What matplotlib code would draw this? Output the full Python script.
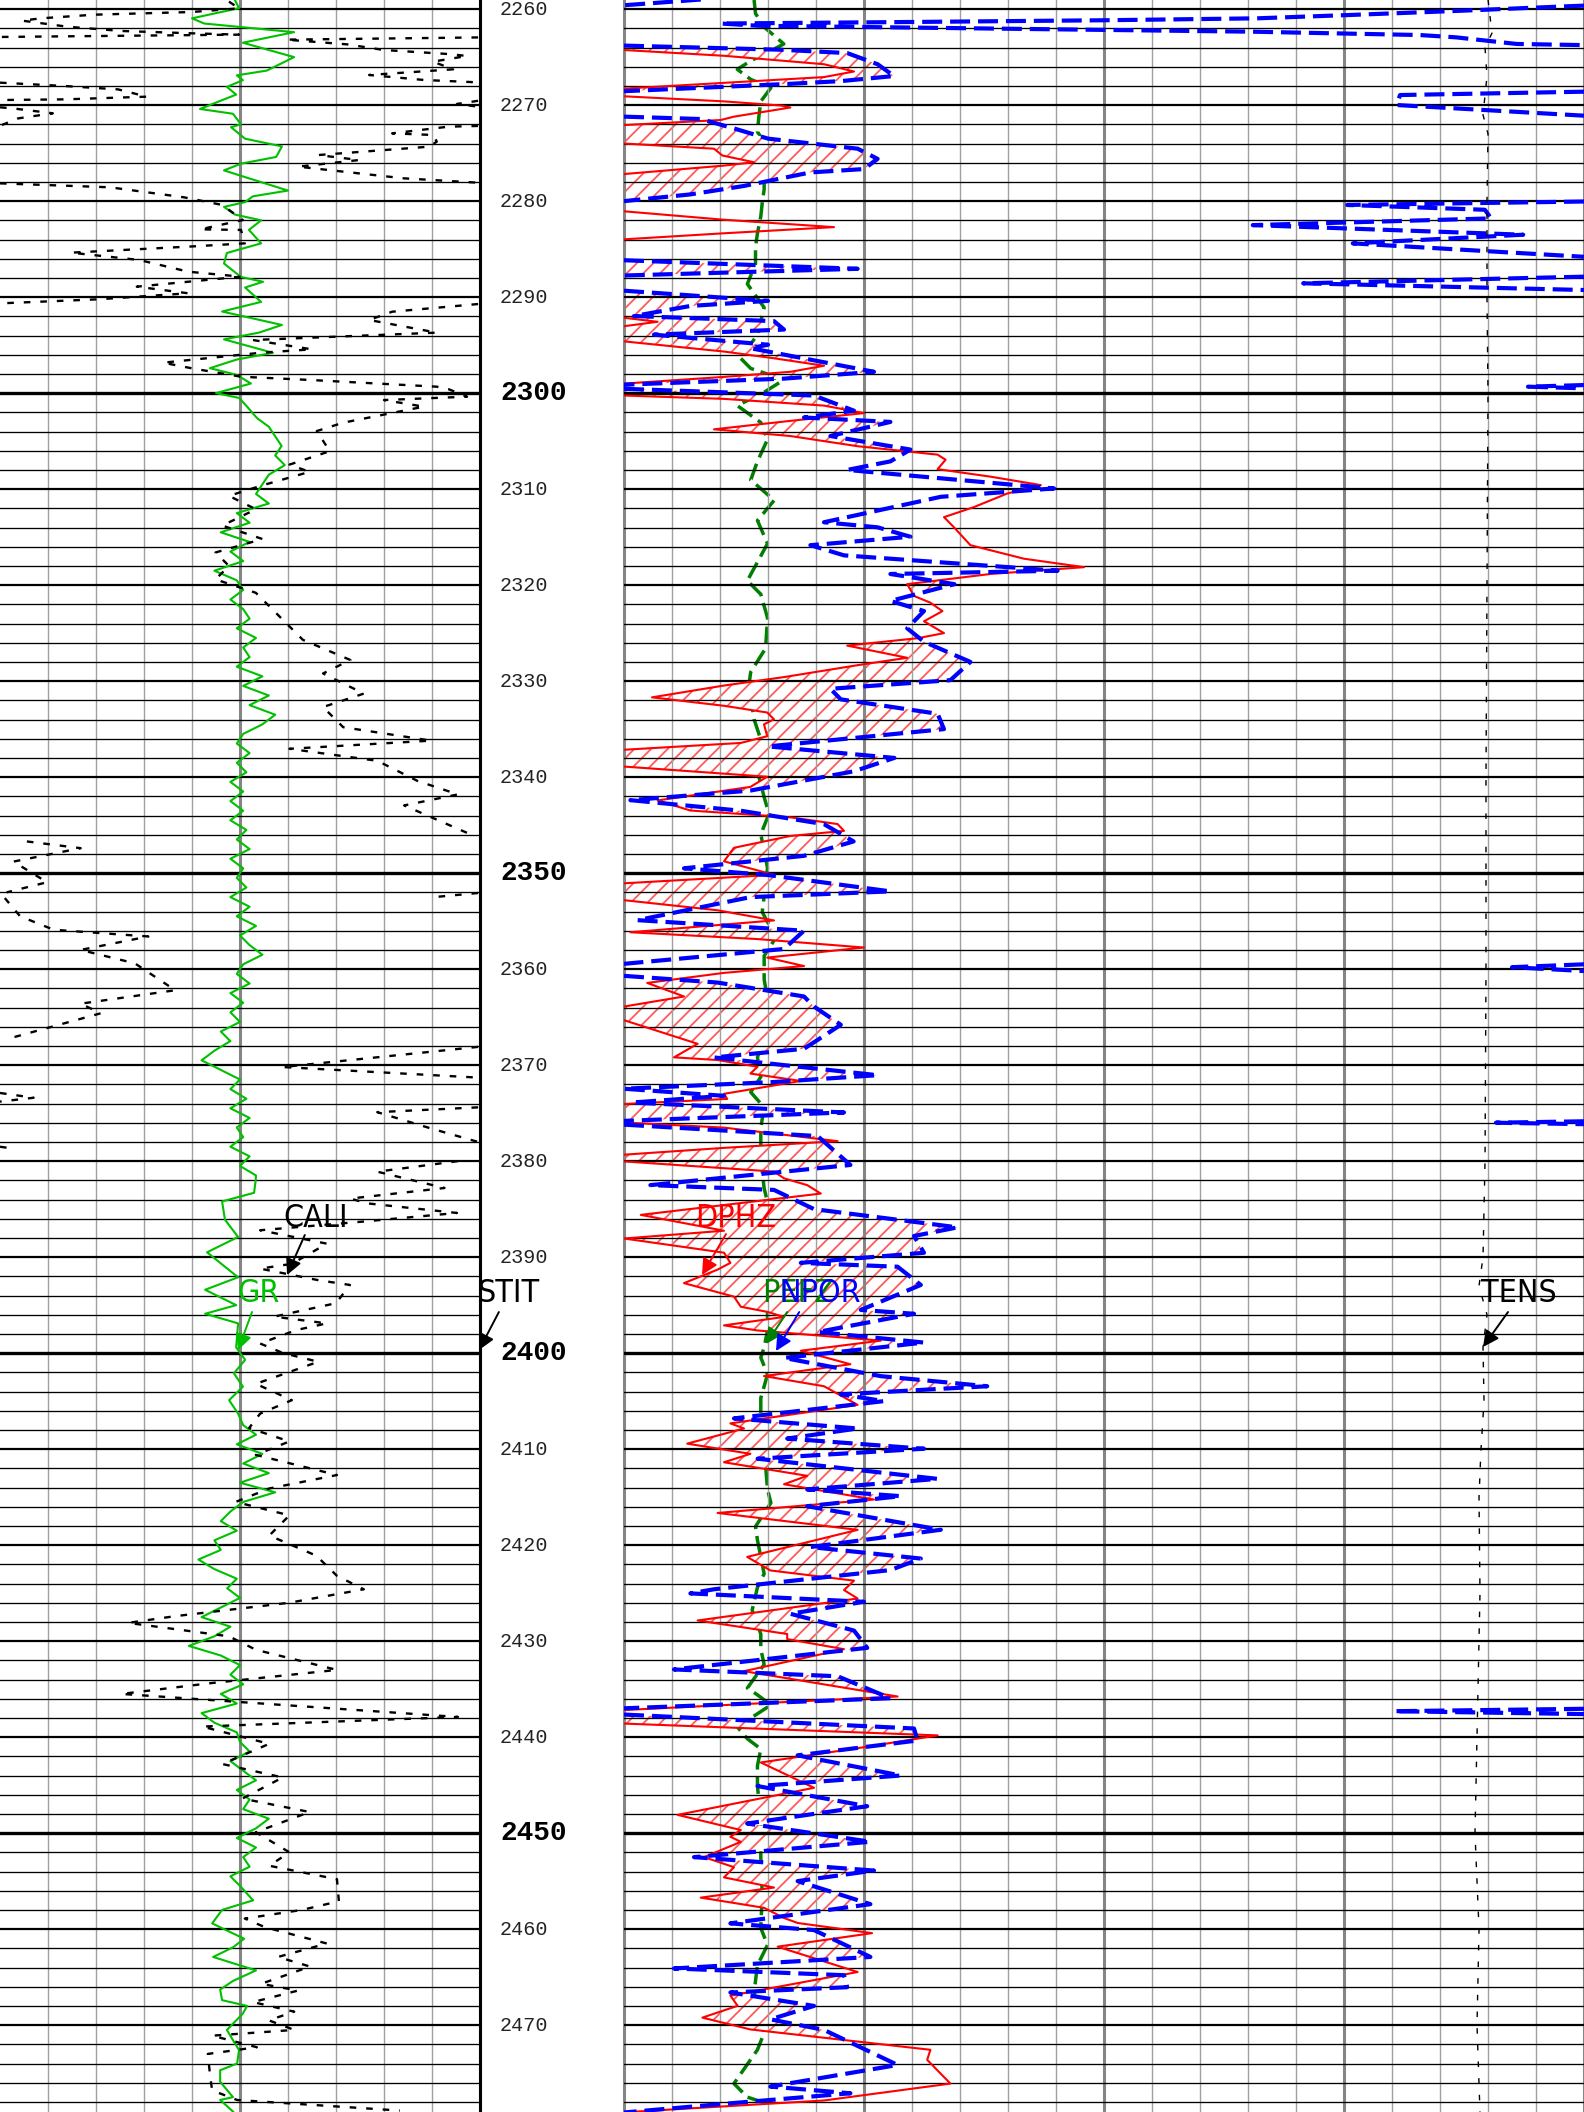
import numpy as np
import matplotlib
matplotlib.use("Agg")
import matplotlib.pyplot as plt
from matplotlib import font_manager
from matplotlib.font_manager import FontProperties

nan = np.nan

# ---------------- data (depth in ft) ----------------
gr_depth = [2259.05, 2259.9, 2260.96, 2261.5, 2262.4, 2263.5, 2265.0, 2266.4, 2266.9, 2267.4,
            2268.1, 2268.9, 2270.4, 2270.9, 2272.0, 2272.3, 2273.5, 2274.3, 2275.4, 2276.1,
            2276.8, 2277.5, 2278.9, 2279.5, 2280.1, 2280.6, 2281.4, 2282.0, 2283.0, 2284.4,
            2285.4, 2286.5, 2287.9, 2288.4, 2289.0, 2290.5, 2291.5, 2292.9, 2293.7, 2294.4,
            2295.8, 2296.5, 2297.4, 2298.1, 2299.0, 2300.0, 2300.5, 2301.4, 2302.6,
            2303.5, 2304.5, 2305.5, 2306.5, 2307.5, 2308.5, 2309.5, 2310.5, 2311.5, 2312.5,
            2313.5, 2314.5, 2315.5, 2316.5, 2317.5, 2318.5, 2319.5, 2320.5, 2321.5, 2322.5,
            2323.5, 2324.5, 2325.5, 2326.5, 2327.5, 2328.5, 2329.5, 2330.5, 2331.5, 2332.5,
            2333.5, 2334.5, 2335.5, 2336.5, 2337.5, 2338.5, 2339.5, 2340.5, 2341.5, 2342.5,
            2343.5, 2344.5, 2345.5, 2346.5, 2347.5, 2348.5, 2349.5, 2350.5, 2351.5, 2352.5,
            2353.5, 2354.5, 2355.5, 2356.5, 2357.5, 2358.5, 2359.5, 2360.5, 2361.5, 2362.5,
            2363.5, 2364.5, 2365.5, 2366.5, 2367.5, 2368.5, 2369.5, 2370.5, 2371.5, 2372.5,
            2373.5, 2374.5, 2375.5, 2376.5, 2377.5, 2378.5, 2379.5, 2380.5, 2381.5,
            2382.0, 2383.3, 2384.2, 2386.1, 2387.9, 2389.5, 2392.1, 2393.4, 2395.0, 2395.9,
            2396.9, 2399.4, 2400.7, 2402.1, 2403.5, 2404.9, 2406.3,
            2407.5, 2408.5, 2409.5, 2410.5, 2411.5, 2412.5, 2413.5, 2414.5, 2415.5, 2416.5,
            2417.5, 2418.5, 2419.5, 2420.5, 2421.5, 2422.5, 2423.5, 2424.5, 2425.5, 2426.5,
            2427.5, 2428.5, 2429.5, 2430.5, 2431.5, 2432.5, 2433.5, 2434.5, 2435.5, 2436.5,
            2437.5, 2438.5, 2439.5, 2440.5, 2441.5, 2442.5, 2443.5, 2444.5, 2445.5, 2446.5,
            2447.5, 2448.5, 2449.5, 2450.5, 2451.5, 2452.5, 2453.5, 2454.5, 2455.5,
            2457.0, 2458.0, 2459.4, 2460.0, 2461.0, 2461.9, 2462.9, 2464.3, 2465.4, 2466.3,
            2467.4, 2468.0, 2468.8, 2470.5, 2471.9, 2472.6, 2474.0, 2474.7, 2475.9, 2477.5,
            2477.8, 2479.0]
gr_api = [73.4, 74.7, 60.0, 63.8, 91.9, 75.9, 91.9, 83.4, 74.0, 75.9,
          70.9, 73.8, 62.5, 72.8, 75.3, 72.2, 76.6, 88.1, 86.3, 75.3,
          70.0, 76.6, 90.0, 79.0, 76.6, 70.0, 73.4, 81.6, 77.8, 81.6,
          70.9, 70.0, 75.3, 82.2, 76.6, 81.6, 69.4, 88.1, 80.9, 70.0,
          85.3, 74.0, 65.6, 74.0, 78.4, 67.5, 74.7, 77.2, 80.3,
          84, 86, 88, 86, 89, 84, 82, 80, 84, 74,
          78, 69, 78, 72, 76, 67, 74, 76, 72, 76,
          78, 74, 80, 76, 78, 74, 82, 76, 84, 78,
          86, 82, 76, 74, 78, 74, 77, 72, 76, 72,
          76, 72, 77, 74, 78, 72, 76, 74, 77, 72,
          78, 74, 80, 75, 78, 82, 76, 74, 78, 72,
          76, 72, 75, 69, 72, 67, 63, 69, 75, 72,
          77, 72, 78, 74, 76, 72, 78, 75, 80,
          79.9, 79.4, 69.4, 70.3, 74.4, 64.7, 74.4, 64.1, 73.8, 64.1,
          74.4, 73.8, 76.6, 73.1, 75.9, 71.6, 74.4,
          76, 80, 74, 82, 76, 84, 75, 86, 76, 72,
          69, 74, 67, 69, 62, 67, 74, 71, 75, 69,
          63, 72, 67, 59, 69, 75, 72, 76, 69, 74,
          63, 67, 74, 75, 78, 72, 76, 80, 74, 78,
          76, 84, 80, 74, 80, 76, 78, 72, 75,
          79.1, 69.4, 66.3, 70.0, 76.3, 72.8, 66.6, 80.0, 72.8, 68.8,
          69.4, 77.2, 75.9, 70.9, 73.4, 74.7, 74.1, 68.8, 68.8, 72.8,
          68.8, 72.8]

cali_depth = [2259.22, 2259.92, 2260.30, 2260.58, 2260.96, 2261.20, 2261.83, 2262.28, 2262.52, 2262.66,
              2262.90, 2262.92, 2262.95, 2263.18, 2263.67, 2264.26, 2264.68, 2264.88, 2265.47, 2266.27,
              2266.86, 2267.38, 2267.63, 2267.64, 2267.66, 2268.01, 2268.36, 2269.12, 2269.40, 2269.47,
              2269.50, 2269.55, 2269.88, 2270.16, 2270.20, 2270.23, 2270.33, 2270.85, 2271.38, 2272.07,
              2272.10, 2272.17, 2272.24, 2272.94, 2273.11, 2273.80, 2274.33, 2275.20, 2275.72, 2276.41,
              2277.63, 2278.08, 2278.10, 2278.15, 2278.56, 2279.60, 2280.40, 2281.97, 2282.94, 2283.00,
              2284.40, 2284.70, 2285.37, 2286.13, 2287.35, 2287.87, 2288.91, 2289.60, 2290.23, 2290.65,
              2290.68, 2290.72, 2291.52, 2292.38, 2293.70, 2294.47, 2295.44, 2295.79, 2296.83, 2297.42,
              2298.29, 2298.63, 2299.33, 2299.60, 2300.37, 2300.72, 2301.41, 2303.08, 2303.95, 2306.05,
              2307.45, 2308.20, 2309.60, 2310.70, 2312.10, 2313.80, 2315.20, 2316.60, 2318.00, 2319.40,
              2320.80, 2322.20, 2323.60, 2325.70, 2327.80, 2329.20, 2331.30, 2332.70, 2334.80, 2336.20,
              2337.05, 2338.30, 2340.40, 2341.80, 2342.95, 2346.00, 2346.30, 2346.70, 2347.40, 2348.80,
              2350.95, 2352.00, 2352.03, 2352.07, 2352.50, 2352.55, 2352.60, 2354.50, 2355.90, 2356.60,
              2358.00, 2359.40, 2362.20, 2363.60, 2364.60, 2367.10, 2367.50, 2368.10, 2370.20, 2371.30,
              2371.50, 2372.90, 2373.40, 2373.80, 2374.00, 2374.40, 2374.90, 2376.60, 2378.00, 2378.20,
              2378.50, 2378.60, 2378.80, 2379.00, 2380.00, 2381.10, 2382.80, 2383.90, 2384.40, 2385.40,
              2386.30, 2387.20, 2388.60, 2390.70, 2391.20, 2392.40, 2392.90, 2394.80, 2396.20, 2396.90,
              2397.60, 2399.00, 2400.00, 2400.90, 2403.20, 2404.90, 2406.30, 2407.80, 2409.20, 2410.60,
              2412.70, 2414.10, 2415.50, 2416.90, 2419.00, 2421.10, 2423.20, 2424.60, 2426.00, 2427.40,
              2428.10, 2429.50, 2430.90, 2433.00, 2434.40, 2435.50, 2437.90, 2438.90, 2440.70, 2442.80,
              2444.20, 2446.40, 2447.80, 2449.90, 2452.00, 2453.40, 2454.80, 2457.10, 2458.00, 2458.90,
              2459.80, 2461.50, 2462.90, 2463.90, 2465.70, 2466.40, 2467.60, 2468.60, 2469.50, 2470.50,
              2471.10, 2472.30, 2473.00, 2475.40, 2476.80, 2477.80, 2478.90]
cali_in = [10.77, 10.98, 10.00, 7.96, 6.85, 6.46, 7.40, 8.54, 10.00, 10.98,
           6.00, nan, 15.96, 11.96, 13.23, 14.00, 15.35, 15.73, 15.02, 15.44,
           13.69, 14.83, 15.96, nan, 6.00, 7.35, 8.46, 9.06, 7.35, 6.00,
           nan, 15.96, 15.52, 15.96, nan, 6.00, 6.25, 7.10, 6.38, 6.04,
           nan, 15.96, 15.35, 14.17, 15.02, 15.10, 14.94, 12.63, 13.48, 12.21,
           14.42, 15.96, nan, 6.00, 8.29, 9.83, 10.63, 11.06, 10.17, 11.02,
           11.10, 10.08, 7.48, 8.90, 9.92, 11.02, 8.85, 9.92, 8.04, 6.00,
           nan, 15.96, 14.17, 13.69, 15.10, 11.27, 12.50, 11.44, 9.40, 10.00,
           11.02, 12.46, 15.10, 15.35, 15.73, 14.00, 14.83, 13.15, 12.60, 12.87,
           12.03, 12.45, 11.47, 10.77, 11.33, 10.63, 11.47, 10.49, 10.77, 10.49,
           11.33, 11.61, 11.89, 12.31, 13.30, 12.73, 13.58, 12.73, 13.15, 14.98,
           12.03, 13.86, 14.70, 15.54, 14.42, 15.82, nan, 6.56, 7.68, 6.28,
           6.98, 6.14, nan, 15.96, 15.04, nan, 6.10, 6.42, 7.12, 9.09,
           7.68, 8.81, 9.65, 7.68, 8.10, 6.28, nan, 15.96, 11.89, 15.96,
           nan, 6.00, 6.70, 6.00, nan, 15.96, 13.86, 14.98, 15.96, nan,
           6.00, 6.14, 6.00, nan, 15.54, 13.86, 15.26, 13.30, 13.65, 15.52,
           13.56, 11.42, 12.81, 12.08, 11.42, 12.63, 13.29, 13.00, 11.71, 12.81,
           12.17, 11.42, 11.90, 12.63, 11.33, 12.08, 11.42, 11.19, 12.03, 11.33,
           13.02, 11.61, 10.91, 12.03, 11.61, 12.59, 13.02, 13.58, 12.03, 9.65,
           8.67, 10.77, 11.33, 13.02, 10.35, 8.53, 15.54, 10.21, 11.61, 10.63,
           11.89, 11.05, 12.45, 11.33, 12.03, 11.61, 13.02, 13.06, 12.29, 11.10,
           11.52, 12.81, 11.79, 12.46, 11.44, 12.21, 11.27, 12.13, 11.60, 12.13,
           10.42, 11.35, 10.33, 10.38, 10.42, 10.94, 14.33]

dphz_depth = [2259.0, 2264.1, 2264.15, 2264.26, 2264.86, 2265.74, 2266.5, 2267.08, 2267.68, 2268.28,
              2268.7, 2269.08, 2269.61, 2270.04, 2270.25, 2271.2, 2271.55, 2272.08, 2273.0, 2274.0,
              2274.54, 2275.25, 2275.95, 2276.3, 2277.18, 2279.0, 2281.06, 2281.94, 2282.71, 2283.35,
              2283.98, 2288.0, 2292.15, 2292.57, 2293.03, 2294.0, 2294.61, 2295.67, 2296.37, 2297.15,
              2297.78, 2298.31, 2299.01, 2299.6, 2300.25, 2300.6, 2301.3, 2302.08, 2302.89, 2303.77,
              2304.47, 2305.53, 2306.41, 2306.94, 2307.92, 2308.7, 2309.58, 2310.46, 2311.87, 2312.92,
              2313.98, 2315.84, 2317.25, 2318.13, 2318.84, 2319.9, 2321.13, 2321.83, 2322.71, 2323.77,
              2325.0, 2325.53, 2326.3, 2327.57, 2328.34, 2329.58, 2330.46, 2331.69, 2332.57, 2333.27,
              2333.98, 2334.5, 2335.74, 2336.44, 2337.15, 2338.0, 2338.9, 2339.96, 2341.02, 2342.43,
              2343.48, 2344.19, 2344.89, 2345.6, 2346.13, 2347.36, 2348.77, 2350.18, 2351.06, 2352.0,
              2352.82, 2353.87, 2354.93, 2356.16, 2356.87, 2357.75, 2358.8, 2359.68, 2360.39, 2361.44,
              2362.85, 2363.9, 2364.6, 2365.32, 2367.78, 2369.19, 2369.47, 2370.17, 2370.88, 2371.65,
              2372.99, 2373.52, 2374.05, 2375.0, 2375.98, 2376.51, 2377.92, 2378.62, 2379.33, 2379.7,
              2380.03, 2381.09, 2381.79, 2382.5, 2383.38, 2385.6, 2387.25, 2388.06, 2389.54, 2390.6,
              2391.3, 2392.71, 2394.12, 2395.17, 2395.7, 2396.23, 2397.11, 2397.64, 2398.7, 2399.75,
              2401.16, 2402.39, 2403.45, 2405.39, 2407.32, 2407.85, 2409.43, 2410.49, 2411.37, 2412.78,
              2413.66, 2415.25, 2416.65, 2418.41, 2421.23, 2422.64, 2423.7, 2424.68, 2425.56, 2427.85,
              2429.26, 2429.79, 2430.84, 2433.13, 2435.77, 2437.18, 2437.8, 2438.59, 2439.82, 2441.05,
              2442.64, 2445.28, 2448.1, 2449.68, 2450.38, 2450.91, 2452.5, 2453.55, 2454.61, 2455.67,
              2456.72, 2457.78, 2458.84, 2459.36, 2460.42, 2461.83, 2464.47, 2466.93, 2467.99, 2469.22,
              2470.45, 2472.57, 2473.62, 2476.09, 2477.85, 2479.08]
dphz = [nan, nan, 0.47, 0.45, 0.325, 0.20, 0.1625, 0.20, 0.325, 0.45,
        0.47, 0.45, 0.325, 0.254, 0.242, 0.3125, 0.329, 0.45, 0.48, 0.45,
        0.3375, 0.327, 0.2875, 0.325, 0.45, 0.48, 0.45, 0.325, 0.1875, 0.325,
        0.45, 0.48, 0.45, 0.408, 0.45, 0.47, 0.45, 0.325, 0.2625, 0.20,
        0.242, 0.325, 0.45, 0.47, 0.45, 0.325, 0.20, 0.15, 0.242, 0.3375,
        0.242, 0.158, 0.058, 0.048, 0.058, -0.008, -0.071, -0.029, 0.0125, 0.05,
        0.0375, 0.017, -0.05, -0.125, -0.008, 0.096, 0.0875, 0.067, 0.052, 0.075,
        0.05, 0.083, 0.171, 0.096, 0.158, 0.25, 0.325, 0.415, 0.325, 0.271,
        0.2625, 0.275, 0.271, 0.304, 0.45, 0.47, 0.45, 0.271, 0.292, 0.408,
        0.367, 0.242, 0.183, 0.175, 0.242, 0.3125, 0.325, 0.2625, 0.45, 0.47,
        0.45, 0.333, 0.2625, 0.442, 0.283, 0.15, 0.271, 0.225, 0.325, 0.421,
        0.375, 0.45, 0.47, 0.45, 0.358, 0.3875, 0.333, 0.283, 0.292, 0.229,
        0.325, 0.321, 0.45, 0.47, 0.45, 0.325, 0.183, 0.325, 0.45, 0.47,
        0.45, 0.2625, 0.25, 0.221, 0.204, 0.429, 0.325, 0.45, 0.325, 0.317,
        0.333, 0.375, 0.3125, 0.304, 0.271, 0.25, 0.325, 0.283, 0.129, 0.229,
        0.167, 0.275, 0.20, 0.158, 0.317, 0.30, 0.371, 0.292, 0.325, 0.221,
        0.25, 0.1375, 0.333, 0.158, 0.296, 0.267, 0.1625, 0.175, 0.158, 0.358,
        0.246, 0.246, 0.175, 0.30, 0.108, 0.45, 0.5, 0.45, 0.058, 0.15,
        0.279, 0.2125, 0.383, 0.304, 0.317, 0.304, 0.35, 0.3125, 0.325, 0.2625,
        0.354, 0.275, 0.25, 0.233, 0.14, 0.258, 0.158, 0.317, 0.308, 0.352,
        0.292, 0.067, 0.071, 0.042, 0.20, 0.45]

# NPOR as displayed on the wrapping 0.45 .. -0.75 scale (nan = wrap break)
npor_depth = [2259.0, 2259.6, 2259.62, 2259.64, 2259.68, 2260.16, 2260.6, 2260.96, 2261.16, 2261.34,
              2261.5, 2261.73, 2261.94, 2262.15, 2262.35, 2262.7, 2262.94, 2263.63, 2263.75, 2263.77,
              2263.8, 2263.98, 2264.23, 2264.58, 2265.74, 2266.97, 2267.5, 2267.78, 2268.55, 2268.57,
              2268.6, 2268.95, 2269.99, 2271.1, 2271.15, 2271.2, 2271.45, 2272.43, 2273.49, 2274.54,
              2275.6, 2276.66, 2277.01, 2278.42, 2279.3, 2280.0, 2280.02, 2280.04, 2280.4, 2280.9,
              2281.8, 2282.5, 2283.5, 2284.4, 2285.8, 2285.9, 2286.16, 2287.05, 2287.75, 2287.8,
              2287.87, 2288.56, 2289.26, 2289.3, 2289.33, 2290.39, 2290.92, 2291.97, 2292.5, 2293.38,
              2293.91, 2294.96, 2295.32, 2297.78, 2298.49, 2299.12, 2299.14, 2299.16, 2299.33, 2299.5,
              2299.52, 2299.55, 2300.25, 2301.83, 2302.54, 2303.0, 2304.47, 2305.88, 2307.11, 2308.0,
              2309.93, 2310.8, 2313.45, 2313.98, 2314.96, 2315.84, 2316.9, 2318.5, 2318.84, 2319.9,
              2321.65, 2322.7, 2324.5, 2325.9, 2328.0, 2329.9, 2330.8, 2331.9, 2333.4, 2335.0,
              2336.8, 2338.0, 2339.4, 2341.4, 2342.4, 2343.5, 2344.9, 2346.7, 2348.2, 2349.5,
              2350.2, 2351.9, 2352.5, 2354.9, 2356.0, 2357.9, 2359.45, 2359.47, 2359.5, 2359.8,
              2360.2, 2360.22, 2360.7, 2361.4, 2362.85, 2363.9, 2365.8, 2368.3, 2369.2, 2370.0,
              2371.05, 2371.76, 2372.46, 2373.2, 2373.9, 2374.93, 2375.81, 2375.83, 2375.85, 2376.0,
              2376.15, 2376.17, 2376.2, 2377.39, 2380.4, 2382.5, 2383.0, 2385.0, 2386.9, 2387.8,
              2389.55, 2390.6, 2391.0, 2392.9, 2395.5, 2395.9, 2397.8, 2398.9, 2400.5, 2402.4,
              2403.45, 2404.3, 2405.0, 2406.8, 2407.85, 2408.9, 2409.96, 2411.0, 2413.1, 2414.2,
              2414.9, 2415.95, 2418.4, 2420.2, 2421.4, 2422.6, 2424.6, 2425.03, 2425.9, 2427.15,
              2428.9, 2430.7, 2432.95, 2433.66, 2435.95, 2437.0, 2437.02, 2437.05, 2437.3, 2437.6,
              2437.62, 2437.65, 2439.1, 2440.35, 2441.9, 2444.0, 2445.1, 2447.2, 2449.0, 2450.9,
              2452.5, 2453.9, 2455.0, 2457.4, 2459.4, 2460.1, 2462.9, 2464.1, 2464.8, 2466.05,
              2466.6, 2468.0, 2469.4, 2470.5, 2474.15, 2476.4, 2477.1, 2478.2, 2479.1]
npor = [0.354, 0.45, nan, -0.75, -0.736, -0.599, -0.461, -0.341, -0.15, 0.092,
        0.329, 0.283, 0.075, -0.138, -0.335, -0.545, -0.59, -0.666, -0.75, nan,
        0.45, 0.367, 0.254, 0.171, 0.133, 0.1125, 0.179, 0.242, 0.45, nan,
        -0.75, -0.52, -0.516, -0.75, nan, 0.45, 0.354, 0.3125, 0.27, 0.158,
        0.133, 0.15, 0.217, 0.30, 0.367, 0.45, nan, -0.75, -0.454, -0.626,
        -0.634, -0.336, -0.674, -0.461, -0.75, nan, 0.45, 0.158, 0.45, nan,
        -0.75, -0.399, -0.75, nan, 0.45, 0.27, 0.367, 0.4375, 0.2625, 0.25,
        0.4125, 0.27, 0.292, 0.1375, 0.25, 0.45, nan, -0.75, -0.68, -0.75,
        nan, 0.45, 0.2125, 0.1625, 0.225, 0.117, 0.192, 0.092, 0.117, 0.171,
        -0.0875, 0.054, 0.20, 0.133, 0.092, 0.217, 0.175, -0.092, 0.117, 0.037,
        0.117, 0.075, 0.096, 0.075, 0.017, 0.042, 0.192, 0.179, 0.058, 0.05,
        0.27, 0.112, 0.163, 0.292, 0.442, 0.304, 0.20, 0.163, 0.225, 0.375,
        0.27, 0.117, 0.292, 0.433, 0.225, 0.25, 0.45, nan, -0.75, -0.66,
        -0.75, nan, 0.45, 0.333, 0.225, 0.2125, 0.179, 0.225, 0.3375, 0.25,
        0.133, 0.2625, 0.45, 0.325, 0.44, 0.175, 0.45, nan, -0.75, -0.64,
        -0.75, nan, 0.45, 0.208, 0.167, 0.417, 0.2625, 0.2125, 0.033, 0.0875,
        0.075, 0.229, 0.108, 0.079, 0.154, 0.0875, 0.208, 0.075, 0.25, 0.129,
        -0.004, 0.179, 0.125, 0.3125, 0.158, 0.246, 0.075, 0.283, 0.058, 0.221,
        0.104, 0.221, 0.054, 0.217, 0.079, 0.117, 0.3375, 0.367, 0.15, 0.242,
        0.1625, 0.146, 0.3875, 0.183, 0.117, 0.45, nan, -0.75, -0.5125, -0.75,
        nan, 0.45, 0.0875, 0.083, 0.233, 0.104, 0.283, 0.146, 0.296, 0.142,
        0.3625, 0.1375, 0.233, 0.142, 0.317, 0.2125, 0.142, 0.3875, 0.175, 0.171,
        0.317, 0.2125, 0.267, 0.20, 0.108, 0.267, 0.167, 0.325, 0.45]

pefz_depth = [2259.05, 2260.46, 2261.87, 2263.63, 2264.33, 2265.39, 2266.27, 2267.32, 2268.2, 2269.61,
              2271.2, 2272.78, 2273.84, 2278.77, 2280.18, 2281.6, 2283.35, 2284.75, 2286.52, 2288.63,
              2291.09, 2293.91, 2296.37, 2297.43, 2298.13, 2298.84, 2299.9, 2301.3, 2303.06, 2304.82,
              2307.11, 2309.05, 2311.16, 2313.27, 2315.67, 2319.54, 2320.95, 2323.41, 2326.58, 2329.05,
              2330.46, 2333.98, 2336.09, 2339.96, 2342.08, 2343.84, 2345.95, 2349.47, 2354.05, 2355.1,
              2356.51, 2358.62, 2361.09, 2364.96, 2369.19, 2371.23, 2372.82, 2374.4, 2376.51, 2379.68,
              2382.85, 2384.26, 2396.23, 2397.64, 2399.4, 2400.46, 2402.22, 2404.68, 2406.8, 2411.72,
              2414.19, 2415.6, 2418.06, 2419.47, 2422.99, 2424.4, 2426.79, 2429.26, 2430.84, 2432.43,
              2434.89, 2435.6, 2436.65, 2438.94, 2440.17, 2441.23, 2442.99, 2445.1, 2448.63, 2452.5,
              2456.37, 2459.89, 2461.65, 2463.77, 2466.58, 2470.81, 2472.57, 2476.09, 2477.5, 2478.2]
pefz = [2.71, 2.74, 2.92, 3.33, 3.06, 2.64, 2.36, 2.64, 3.06, 2.85,
        2.81, 2.78, 2.92, 2.92, 2.88, 2.85, 2.78, 2.74, 2.74, 2.57,
        2.92, 2.78, 2.43, 2.64, 3.06, 3.26, 2.92, 2.36, 2.85, 2.99,
        2.78, 2.64, 3.13, 2.78, 2.99, 2.57, 2.85, 2.99, 2.95, 2.64,
        2.60, 2.71, 2.85, 2.81, 2.92, 3.02, 2.85, 2.99, 2.88, 2.99,
        3.19, 2.92, 2.92, 3.06, 2.78, 2.85, 2.64, 2.92, 2.85, 2.85,
        2.92, 2.99, 2.99, 2.99, 2.92, 2.85, 2.99, 2.85, 2.85, 2.95,
        2.99, 3.06, 2.74, 2.78, 2.92, 2.78, 2.67, 2.85, 2.85, 2.92,
        2.57, 2.78, 3.06, 2.36, 2.57, 2.85, 2.78, 2.78, 2.85, 2.85,
        2.88, 2.85, 2.99, 2.78, 2.71, 2.92, 2.78, 2.29, 2.57, 2.99]

tens_depth = [2259.0, 2262.5, 2264.0, 2267.0, 2271.0, 2273.0, 2280.0, 2290.0, 2300.0, 2320.0,
              2340.0, 2360.0, 2380.0, 2390.0, 2393.0, 2396.0, 2399.4, 2405.0, 2410.0, 2415.0,
              2425.0, 2440.0, 2450.0, 2460.0, 2470.0, 2479.1]
tens_lbf = [8000, 8083, 7938, 7979, 7896, 8000, 7979, 7979, 8000, 7979,
            7958, 7958, 7938, 7896, 7813, 7979, 7896, 7917, 7854, 7813,
            7833, 7771, 7729, 7813, 7771, 7833]

depth_labels = list(range(2260, 2480, 10))

# ---------------- fonts ----------------
names = {f.name for f in font_manager.fontManager.ttflist}
MONO_FONT = ['Liberation Mono', 'DejaVu Sans Mono'] if 'Liberation Mono' in names else ['DejaVu Sans Mono']


def find_condensed():
    prefs = ['LiberationSansNarrow-Regular', 'DejaVuSansCondensed.', 'RobotoCondensed-Regular',
             'Roboto_Condensed-Regular', 'OpenSans_Condensed-Regular', 'OpenSansCondensed-Regular',
             'Condensed-Regular', 'Narrow-Regular']
    files = [f.fname for f in font_manager.fontManager.ttflist]
    for p in prefs:
        for fn in files:
            if p.lower() in fn.replace(' ', '').lower():
                return FontProperties(fname=fn)
    for fn in files:
        low = fn.lower()
        if ('condensed' in low or 'narrow' in low) and 'bold' not in low and 'italic' not in low \
                and 'oblique' not in low and 'light' not in low:
            return FontProperties(fname=fn)
    return None


COND = find_condensed()

plt.rcParams['hatch.linewidth'] = 1.3
plt.rcParams['hatch.color'] = '#ff5a5a'

# ---------------- layout ----------------
W, H = 1584, 2112
TOP, BOTTOM = 2259.05, 2479.05
fig = plt.figure(figsize=(W / 100, H / 100), dpi=100)
fig.patch.set_facecolor('white')


def track_axes(x0, w, z, xlim):
    ax = fig.add_axes([x0 / W, 0, w / W, 1])
    ax.set_zorder(z)
    ax.patch.set_alpha(0)
    ax.set_xlim(*xlim)
    ax.set_ylim(BOTTOM, TOP)
    ax.set_xticks([])
    ax.set_yticks([])
    for s in ax.spines.values():
        s.set_visible(False)
    return ax


THIN_G, THICK_G = '#a0a0a0', '#858585'


def draw_grid(ax, ndiv, thick_every, left_thick):
    for i in range(ndiv + 1):
        if i == 0 and not left_thick:
            continue
        thick = (i % thick_every == 0)
        ax.axvline(i, color=THICK_G if thick else THIN_G, lw=2.2 if thick else 1.0,
                   zorder=1, clip_on=False)
    for d in range(2260, 2480, 2):
        if d % 50 == 0:
            lw = 2.4
        elif d % 10 == 0:
            lw = 1.6
        else:
            lw = 0.95
        ax.axhline(d, color='black', lw=lw, zorder=1.2)


# ---- left track (GR / CALI)
axLg = track_axes(0, 480, 1, (0, 10))
draw_grid(axLg, 10, 5, False)
axLg.axvline(10, color='black', lw=2.2, zorder=2, clip_on=False)

axGR = track_axes(0, 480, 2, (0, 150))
axGR.plot(gr_api, gr_depth, color='#00c000', lw=1.5, zorder=3)

axCA = track_axes(0, 480, 3, (6, 16))
axCA.plot(cali_in, cali_depth, color='black', lw=1.7, dashes=(2.8, 4.2), zorder=3)

# ---- depth track
axD = track_axes(480, 144, 1, (0, 1))
for d in depth_labels:
    if d % 50 == 0:
        axD.text(0.139, d, str(d), fontsize=20, fontweight='bold', family=MONO_FONT,
                 ha='left', va='center', color='black')
    else:
        axD.text(0.139, d, str(d), fontsize=14.5, family=MONO_FONT,
                 ha='left', va='center', color='#222222')

# ---- right track (DPHZ / NPOR / PEFZ / TENS)
axPE = track_axes(624, 960, 1, (0, 20))
axPE.plot(pefz, pefz_depth, color='#007f00', lw=2.5, dashes=(5, 2), zorder=2)

axFill = track_axes(624, 960, 2, (0.45, -0.75))
fine = np.arange(TOP, BOTTOM, 0.02)
dp_i = np.interp(fine, dphz_depth, dphz)
np_i = np.interp(fine, npor_depth, npor)
mask = (dp_i > np_i) & (np_i > -0.16)
axFill.fill_betweenx(fine, dp_i, np_i, where=mask, interpolate=True,
                     facecolor='white', edgecolor='#ff5a5a', hatch='//', linewidth=0)

axRg = track_axes(624, 960, 3, (0, 20))
draw_grid(axRg, 20, 5, True)

axR = track_axes(624, 960, 4, (0.45, -0.75))
axR.plot(dphz, dphz_depth, color='red', lw=1.5, zorder=3)
axR.plot(npor, npor_depth, color='blue', lw=3.0, dashes=(4.8, 1.9), zorder=4)

axT = track_axes(1104, 480, 5, (0, 10000))
axT.plot(tens_lbf, tens_depth, color='black', lw=1.0, dashes=(4, 8), zorder=3)

# ---- curve labels with arrows
ov = fig.add_axes([0, 0, 1, 1])
ov.set_zorder(10)
ov.axis('off')


def curve_label(text, color, ax, text_xy, start_xy, tip_xy):
    ov.annotate('', xy=tip_xy, xycoords=ax.transData, xytext=start_xy, textcoords=ax.transData,
                arrowprops=dict(arrowstyle='-|>', color=color, lw=1.4, mutation_scale=24,
                                shrinkA=0, shrinkB=0))
    if COND is not None:
        fp = COND.copy()
        fp.set_size(23)
        ov.text(text_xy[0], text_xy[1], text, transform=ax.transData, color=color,
                fontproperties=fp, ha='center', va='center')
    else:
        ov.text(text_xy[0], text_xy[1], text, transform=ax.transData, color=color, fontsize=21,
                family='DejaVu Sans', fontstretch='condensed', ha='center', va='center')


curve_label('CALI', 'black', axCA, (12.58, 2385.93), (12.35, 2387.7), (11.98, 2391.86))
curve_label('GR', '#00c000', axGR, (80.9, 2393.84), (78.75, 2395.72), (74.4, 2399.68))
curve_label('STIT', 'black', axGR, (158.75, 2393.74), (155.9, 2395.72), (149.7, 2399.68))
curve_label('DPHZ', 'red', axR, (0.311, 2385.93), (0.3225, 2387.6), (0.3525, 2391.86))
curve_label('PEFZ', '#007f00', axPE, (3.625, 2393.74), (3.4, 2395.72), (2.96, 2399.05))
curve_label('NPOR', 'blue', axR, (0.205, 2393.74), (0.231, 2395.72), (0.26, 2399.78))
curve_label('TENS', 'black', axT, (8646, 2393.74), (8417, 2395.72), (7896, 2399.36))

fig.savefig('out.png', dpi=100, facecolor='white')
